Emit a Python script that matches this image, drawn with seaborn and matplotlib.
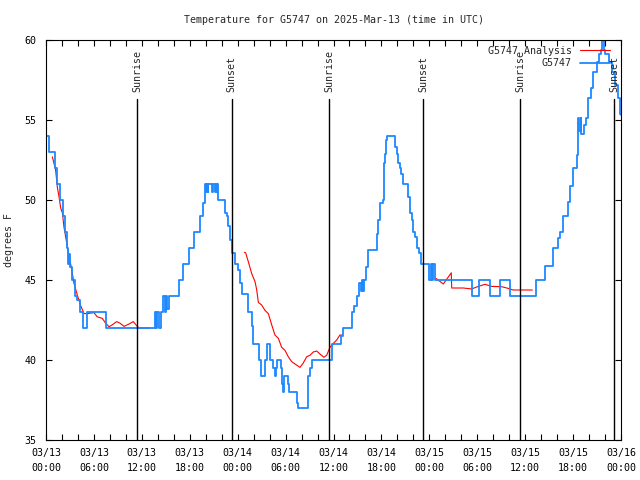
import numpy as np
import pandas as pd
import matplotlib
matplotlib.use("Agg")
import matplotlib.pyplot as plt
import matplotlib.dates as mdates
import matplotlib.transforms as mtransforms
import seaborn as sns

### Data: (hours after 2025-03-13 00:00 UTC, degrees F)
START = pd.Timestamp("2025-03-13 00:00")

# G5747 observations (step values)
obs_points = [
    (0.0, 54.0), (0.42, 53.0), (1.09, 52.0), (1.42, 51.0), (1.75, 50.0), (2.09, 49.0),
    (2.42, 48.0), (2.59, 47.0), (2.8, 46.0), (2.92, 46.6), (3.05, 45.8), (3.26, 45.0),
    (3.59, 44.0), (3.92, 43.75), (4.26, 43.0), (4.67, 42.0), (5.09, 43.0), (7.47, 42.0),
    (13.65, 43.0), (13.8, 42.0), (13.95, 43.0), (14.2, 42.0), (14.4, 43.0), (14.69, 44.0),
    (14.9, 43.0), (15.05, 44.0), (15.2, 43.2), (15.35, 44.0), (16.65, 45.0), (17.11, 46.0),
    (17.95, 47.0), (18.57, 48.0), (19.28, 49.0), (19.7, 49.8), (19.91, 51.0), (20.05, 50.5),
    (20.12, 51.0), (20.25, 50.5), (20.33, 51.0), (20.74, 50.5), (20.85, 51.0), (21.16, 50.5),
    (21.25, 51.0), (21.37, 50.5), (21.45, 51.0), (21.58, 50.0), (22.42, 49.2), (22.62, 49.0),
    (22.83, 48.4), (23.04, 47.5), (23.25, 46.7), (23.67, 46.0), (24.08, 45.6), (24.29, 44.8),
    (24.5, 44.1), (25.25, 43.0), (25.75, 42.1), (25.96, 41.0), (26.71, 40.0), (26.92, 39.0),
    (27.42, 40.0), (27.63, 41.0), (28.05, 40.0), (28.46, 39.5), (28.67, 39.0), (28.8, 39.5),
    (28.97, 40.0), (29.39, 39.5), (29.51, 38.5), (29.72, 38.0), (29.84, 39.0), (30.34, 38.5),
    (30.47, 38.0), (31.39, 37.3), (31.51, 37.0), (32.85, 39.0), (33.06, 39.5), (33.35, 40.0),
    (35.85, 41.0), (37.0, 41.5), (37.23, 42.0), (38.28, 43.0), (38.57, 43.4), (38.9, 44.0),
    (39.23, 44.8), (39.4, 44.3), (39.55, 45.0), (39.7, 44.3), (39.85, 45.0), (40.07, 45.8),
    (40.36, 46.9), (41.41, 47.9), (41.61, 48.75), (41.82, 49.8), (42.16, 50.0), (42.32, 52.3),
    (42.45, 52.9), (42.57, 53.75), (42.74, 54.0), (43.74, 53.3), (43.9, 52.9), (44.1, 52.3),
    (44.3, 52.0), (44.5, 51.6), (44.74, 51.0), (45.37, 50.2), (45.58, 49.2), (45.79, 48.75),
    (45.91, 48.0), (46.2, 47.7), (46.42, 47.0), (46.75, 46.7), (46.92, 46.0), (48.0, 45.0),
    (48.2, 46.0), (48.38, 45.0), (48.5, 46.0), (48.67, 45.0), (53.3, 44.0), (54.26, 45.0),
    (55.6, 44.0), (56.85, 45.0), (58.15, 44.0), (61.36, 45.0), (62.48, 45.9), (63.44, 47.0),
    (64.15, 47.6), (64.36, 48.0), (64.69, 49.0), (65.41, 49.9), (65.62, 50.9), (66.03, 52.0),
    (66.45, 52.8), (66.66, 55.1), (66.78, 54.3), (66.95, 55.1), (67.04, 54.1), (67.37, 54.7),
    (67.58, 55.1), (67.91, 56.35), (68.2, 57.0), (68.54, 58.0), (69.04, 58.65), (69.25, 59.1),
    (69.46, 59.4), (69.62, 60.0), (69.88, 59.4), (70.0, 59.1), (70.54, 58.65), (70.84, 58.0),
    (71.26, 57.2), (71.67, 56.35), (71.88, 55.4), (71.95, 55.3),
]

# G5747 Analysis, three separate pieces
ana_part1 = [
    (0.79, 52.7), (1.2, 51.9), (1.42, 50.8), (1.63, 50.2), (1.84, 49.5), (2.05, 49.2),
    (2.25, 48.3), (2.46, 47.7), (2.67, 47.1), (2.88, 46.35), (3.09, 46.0), (3.3, 45.4),
    (3.5, 44.8), (3.92, 44.06), (4.34, 43.4), (4.76, 42.9), (5.17, 42.9), (6.0, 42.96),
    (6.42, 42.7), (7.05, 42.6), (7.47, 42.3), (7.89, 42.08), (8.3, 42.2), (8.85, 42.4),
    (9.27, 42.3), (9.77, 42.1), (10.4, 42.25), (10.93, 42.4), (11.43, 42.1), (11.65, 42.0),
    (13.0, 42.0),
]
ana_part2 = [
    (24.83, 46.73), (25.0, 46.7), (25.33, 46.15), (25.76, 45.4), (26.17, 44.9), (26.38, 44.4),
    (26.59, 43.6), (27.0, 43.44), (27.42, 43.1), (27.84, 42.9), (28.26, 42.2), (28.67, 41.56),
    (29.1, 41.35), (29.5, 40.8), (29.93, 40.6), (30.34, 40.2), (30.76, 39.9), (31.18, 39.75),
    (31.8, 39.54), (32.2, 39.8), (32.64, 40.2), (33.06, 40.3), (33.47, 40.5), (33.9, 40.56),
    (34.3, 40.375), (34.8, 40.17), (35.15, 40.3), (35.56, 40.8), (35.98, 41.04), (36.4, 41.25),
    (36.8, 41.56), (37.1, 41.56),
]
ana_part3 = [
    (48.84, 45.1), (49.75, 44.75), (50.75, 45.45), (50.8, 44.5), (52.25, 44.5), (53.3, 44.44),
    (54.13, 44.6), (54.97, 44.73), (55.8, 44.6), (57.06, 44.58), (57.7, 44.5), (58.5, 44.375),
    (60.9, 44.375),
]

# Sun events
sun_hours = [11.43, 23.25, 35.48, 47.25, 59.4, 71.17]
sun_labels = ["Sunrise", "Sunset", "Sunrise", "Sunset", "Sunrise", "Sunset"]

### Frames
def to_frame(points, seg=0):
    h, t = zip(*points)
    return pd.DataFrame({"time": START + pd.to_timedelta(list(h), unit="h"),
                         "temp": list(t), "seg": seg})

df_obs = to_frame(obs_points)
df_ana = pd.concat([to_frame(p, i) for i, p in enumerate([ana_part1, ana_part2, ana_part3])],
                   ignore_index=True)
sun_times = START + pd.to_timedelta(sun_hours, unit="h")

### Style
sns.set_style("ticks")
plt.rcParams["font.family"] = ["DejaVu Sans Mono"]
FS = 7.2

fig = plt.figure(figsize=(6.4, 4.8), dpi=100)
ax = fig.add_axes([46 / 640, 40 / 480, 575 / 640, 400 / 480])

sns.lineplot(data=df_ana, x="time", y="temp", units="seg", estimator=None,
             color="#ff0000", lw=0.8, label="G5747 Analysis", ax=ax, legend=False)
sns.lineplot(data=df_obs, x="time", y="temp", estimator=None, drawstyle="steps-post",
             color="#1e88ff", lw=1.3, label="G5747", ax=ax, legend=False)

# Sunrise / sunset markers
trans = mtransforms.blended_transform_factory(ax.transData, ax.transAxes)
for t, lbl in zip(sun_times, sun_labels):
    ax.axvline(t, ymin=0, ymax=0.8525, color="black", lw=1.0, zorder=5)
    ax.text(t, 0.87, lbl, rotation=90, transform=trans, ha="center", va="bottom",
            fontsize=FS, zorder=6)

ax.set_xlim(START, START + pd.Timedelta(hours=72))
ax.set_ylim(35, 60)
ax.set_yticks([35, 40, 45, 50, 55, 60])

ax.xaxis.set_major_locator(mdates.HourLocator(byhour=[0, 6, 12, 18]))
ax.xaxis.set_minor_locator(mdates.HourLocator(byhour=list(range(0, 24, 2))))
ax.xaxis.set_major_formatter(mdates.DateFormatter("%m/%d\n%H:%M"))

ax.tick_params(axis="both", which="both", direction="in", length=4, width=0.8,
               top=True, right=True, labelsize=FS, colors="black")
ax.tick_params(axis="x", which="major", pad=6)
ax.tick_params(axis="y", which="major", pad=7)
for lbl in ax.get_xticklabels():
    lbl.set_linespacing(1.6)

for sp in ax.spines.values():
    sp.set_linewidth(0.8)
    sp.set_color("black")

ax.set_xlabel("")
ax.set_ylabel("degrees F", fontsize=FS)
ax.yaxis.set_label_coords(-0.055, 0.5)
ax.set_title("Temperature for G5747 on 2025-Mar-13 (time in UTC)", fontsize=FS, pad=12)

# Legend, gnuplot style: text then sample, no frame
handles, labels = ax.get_legend_handles_labels()
uniq = dict(zip(labels, handles))
ax.legend(list(uniq.values()), list(uniq.keys()), loc="upper right",
          bbox_to_anchor=(1 - 11 / 575, 1 - 6 / 400), frameon=False, markerfirst=False,
          fontsize=FS, handlelength=3.0, handletextpad=0.8, labelspacing=0.25,
          borderaxespad=0, borderpad=0)

plt.savefig("out.png", dpi=100)
